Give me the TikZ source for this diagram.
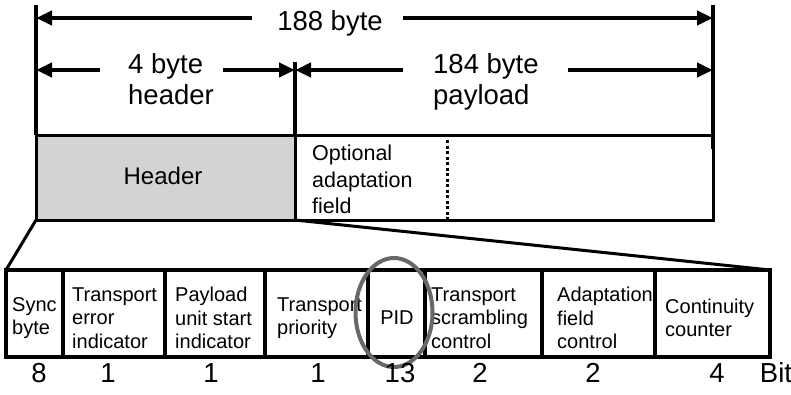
\documentclass[tikz,border=0pt]{standalone}
\usepackage{fontspec}
\setmainfont{Liberation Sans}
\usetikzlibrary{arrows.meta,positioning,calc}
\definecolor{ink}{HTML}{000000}
\definecolor{hdrgray}{HTML}{D3D3D3}
\definecolor{ringgray}{HTML}{686868}

\begin{document}
\begin{tikzpicture}[x=1pt,y=-1pt,>={Triangle[length=16pt,width=14pt]}]
\tikzset{dim/.style={draw=ink,line width=4.5pt}, box/.style={draw=ink,line width=3pt,inner sep=0pt,outer sep=0pt}, bigtxt/.style={font=\fontsize{27.5}{31}\selectfont,inner sep=0pt,align=left}, midtxt/.style={font=\fontsize{21.5}{26.5}\selectfont,inner sep=0pt,align=left}, fieldtxt/.style={font=\fontsize{20}{23.5}\selectfont,inner sep=0pt,align=left,anchor=west}}
\useasboundingbox (0,0) rectangle (791,394);
% packet boxes
\node[box,fill=hdrgray,minimum width=259pt,minimum height=85pt,font=\fontsize{24}{28}\selectfont] (hdr) at (165.5,177.5) {};
\node[box,fill=white,minimum width=418pt,minimum height=85pt] (pay) at (504,177.5) {};
\node[font=\fontsize{24}{28}\selectfont,inner sep=0pt] (hdrtxt) at (163,176) {Header};
\node[midtxt,anchor=north west] (opt) at (312,145) {Optional\\adaptation\\field};
\coordinate (dotT) at (447,140);
\draw[ink,line width=3pt,dash pattern=on 3pt off 2.5pt] (dotT) -- (dotT |- pay.south);
% dimension lines
\coordinate (lt) at (36,5);
\coordinate (rt) at (713,5);
\coordinate (mt) at (295,62);
\draw[dim] (hdr.north west) -- (lt);
\draw[dim] (mt) -- (hdr.north east);
\draw[dim] (rt) -- ([yshift=-14pt]pay.north east);
\node[bigtxt,anchor=base] (t188) at (330,30) {188 byte};
\node[bigtxt,anchor=north west] (t4) at (128,53) {4 byte\\header};
\node[bigtxt,anchor=north west] (t184) at (433,53) {184 byte\\payload};
\coordinate (a1) at (252,18);
\coordinate (a2) at (403,18);
\coordinate (a3) at (100,70);
\coordinate (a4) at (223,70);
\coordinate (a5) at (403,70);
\coordinate (a6) at (568,70);
\draw[dim,->] (a1) -- (a1 -| hdr.west);
\draw[dim,->] (a2) -- (a2 -| pay.east);
\draw[dim,->] (a3) -- (a3 -| hdr.west);
\draw[dim,->] (a4) -- (a4 -| hdr.east);
\draw[dim,->] (a5) -- (a5 -| hdr.east);
\draw[dim,->] (a6) -- (a6 -| pay.east);
% header fields
\node[box,line width=3.5pt,minimum width=764pt,minimum height=87pt] (strip) at (388,313.5) {};
\draw[ink,line width=3pt] (hdr.south west) -- (strip.north west);
\draw[ink,line width=3pt] (hdr.south east) -- (strip.north east);
\foreach \x in {63,165,265,368,425,542,655}
  \draw[ink,line width=3.5pt] (\x,0 |- strip.north) -- (\x,0 |- strip.south);
\foreach \x/\txt [count=\i] in {12/{Sync\\byte},72/{Transport\\error\\indicator},175/{Payload\\unit start\\indicator},277/{Transport\\priority},431/{Transport\\scrambling\\control},557/{Adaptation\\field\\control},665/{Continuity\\counter}}
  \node[fieldtxt] (f\i) at (\x,318) {\txt};
\node[fieldtxt,anchor=center] (pid) at (397,318) {PID};
\coordinate (ring) at (394,312.5);
\draw[ringgray,line width=4pt] (ring) ellipse [x radius=38.5pt,y radius=54.5pt];
% bit widths
\foreach \x/\n [count=\i] in {39/8,108/1,211/1,318/1,400/13,480/2,593/2,717/4,776/Bit}
  \node[bigtxt,anchor=base] (b\i) at (\x,382) {\n};
\end{tikzpicture}
\end{document}
